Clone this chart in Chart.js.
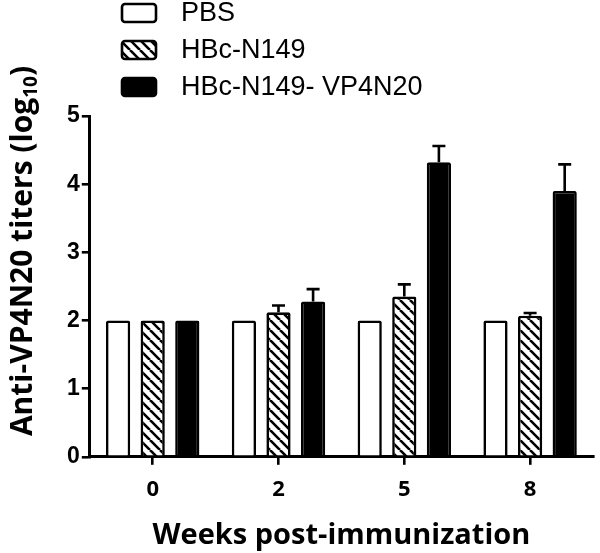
<!DOCTYPE html>
<html lang="en">
<head>
  <meta charset="UTF-8" />
  <title>Anti-VP4N20 titers</title>
  <script src="https://cdn.jsdelivr.net/npm/chart.js"></script>
  <style>
    html, body { margin: 0; padding: 0; background: #fff; }
    #wrap { width: 600px; height: 553px; }
  </style>
</head>
<body>
  <div id="wrap"><canvas id="titerChart"></canvas></div>

  <script>
    // data
    const weeks = ['0', '2', '5', '8'];
    const seriesNames = ['PBS', 'HBc-N149', 'HBc-N149- VP4N20'];
    const pbs = [2.0, 2.0, 2.0, 2.0];
    const hbc = [2.0, 2.12, 2.35, 2.07];
    const hbcVp = [2.0, 2.28, 4.32, 3.90];
    const pbsErr = [0, 0, 0, 0];
    const hbcErr = [0, 0.10, 0.18, 0.04];
    const hbcVpErr = [0, 0.18, 0.24, 0.39];
    const yTicks = [0, 1, 2, 3, 4, 5];

    // diagonal hatch fill
    function makeHatch() {
      const s = 10;
      const c = document.createElement('canvas');
      c.width = s; c.height = s;
      const g = c.getContext('2d');
      g.fillStyle = '#fff';
      g.fillRect(0, 0, s, s);
      g.strokeStyle = '#000';
      g.lineWidth = 2.6;
      g.beginPath();
      for (let k = -1; k <= 1; k++) {
        g.moveTo(k * s, 0);
        g.lineTo(k * s + s, s);
      }
      g.stroke();
      return g.createPattern(c, 'repeat');
    }
    const hatch = makeHatch();

    // upward error bars with caps
    const errorBars = {
      id: 'errorBars',
      afterDatasetsDraw(chart) {
        const ctx = chart.ctx;
        const yScale = chart.scales.y;
        ctx.save();
        ctx.strokeStyle = '#000';
        ctx.lineWidth = 2.6;
        chart.data.datasets.forEach((ds, i) => {
          const meta = chart.getDatasetMeta(i);
          meta.data.forEach((bar, j) => {
            const err = ds.errors[j];
            if (!err) return;
            const yTop = yScale.getPixelForValue(ds.data[j] + err);
            ctx.beginPath();
            ctx.moveTo(bar.x, bar.y);
            ctx.lineTo(bar.x, yTop);
            ctx.moveTo(bar.x - 6.5, yTop);
            ctx.lineTo(bar.x + 6.5, yTop);
            ctx.stroke();
          });
        });
        ctx.restore();
      }
    };

    // stacked legend above the plot
    const stackedLegend = {
      id: 'stackedLegend',
      afterDraw(chart) {
        const ctx = chart.ctx;
        ctx.save();
        ctx.font = '27px "Liberation Sans", Arial, sans-serif';
        ctx.textBaseline = 'middle';
        chart.data.datasets.forEach((ds, i) => {
          const cy = 13 + i * 37;
          ctx.beginPath();
          ctx.roundRect(122, cy - 9, 34, 18, 3);
          ctx.fillStyle = ds.backgroundColor;
          ctx.fill();
          ctx.lineWidth = 2.6;
          ctx.strokeStyle = '#000';
          ctx.stroke();
          ctx.fillStyle = '#000';
          ctx.fillText(ds.label, 181, cy + 1);
        });
        ctx.restore();
      }
    };

    // y title with a real subscript, sits a bit above the axis middle like the original
    const yTitle = {
      id: 'yTitle',
      afterDraw(chart) {
        const ctx = chart.ctx;
        const main = 'Anti-VP4N20 titers (log';
        const sub = '10';
        const close = ')';
        const big = 'bold 30px "Open Sans", sans-serif';
        const small = 'bold 19px "Open Sans", sans-serif';
        ctx.save();
        ctx.fillStyle = '#000';
        ctx.textBaseline = 'alphabetic';
        ctx.font = big;
        const w1 = ctx.measureText(main).width;
        const w3 = ctx.measureText(close).width;
        ctx.font = small;
        const w2 = ctx.measureText(sub).width;
        const total = w1 + w2 + w3;
        ctx.translate(32, 251);
        ctx.rotate(-Math.PI / 2);
        let x = -total / 2;
        ctx.font = big;
        ctx.fillText(main, x, 0);
        x += w1;
        ctx.font = small;
        ctx.fillText(sub, x, 5);
        x += w2;
        ctx.font = big;
        ctx.fillText(close, x, 0);
        ctx.restore();
      }
    };

    const barStyle = { borderColor: '#000', borderWidth: 2.6, borderRadius: 2, borderSkipped: 'bottom' };

    new Chart(document.getElementById('titerChart'), {
      type: 'bar',
      data: {
        labels: weeks,
        datasets: [
          Object.assign({ label: seriesNames[0], data: pbs, errors: pbsErr, backgroundColor: '#fff' }, barStyle),
          Object.assign({ label: seriesNames[1], data: hbc, errors: hbcErr, backgroundColor: hatch }, barStyle),
          Object.assign({ label: seriesNames[2], data: hbcVp, errors: hbcVpErr, backgroundColor: '#000' }, barStyle)
        ]
      },
      plugins: [errorBars, stackedLegend, yTitle],
      options: {
        responsive: true,
        maintainAspectRatio: false,
        animation: false,
        layout: { padding: { top: 116, right: 7, bottom: 0, left: 65 } },
        datasets: { bar: { categoryPercentage: 0.825, barPercentage: 0.7 } },
        plugins: {
          legend: { display: false },
          tooltip: { enabled: false }
        },
        scales: {
          x: {
            grid: { display: true, drawOnChartArea: false, offset: false, color: '#000', lineWidth: 2.6, tickLength: 8 },
            border: { display: true, color: '#000', width: 3 },
            ticks: { color: '#000', padding: 12, font: { family: '"Open Sans", sans-serif', size: 22, weight: 'bold' } },
            title: {
              display: true,
              text: 'Weeks post-immunization',
              color: '#000',
              padding: { top: 3, bottom: 0 },
              font: { family: '"Open Sans", sans-serif', size: 29, weight: 'bold' }
            }
          },
          y: {
            min: 0,
            max: 5,
            afterBuildTicks(scale) { scale.ticks = yTicks.map(v => ({ value: v })); },
            grid: { display: true, drawOnChartArea: false, color: '#000', lineWidth: 2.6, tickLength: 8 },
            border: { display: true, color: '#000', width: 3 },
            ticks: { color: '#000', padding: 2, font: { family: '"Liberation Sans", Arial, sans-serif', size: 23, weight: 'bold' } }
          }
        }
      }
    });
  </script>
</body>
</html>
